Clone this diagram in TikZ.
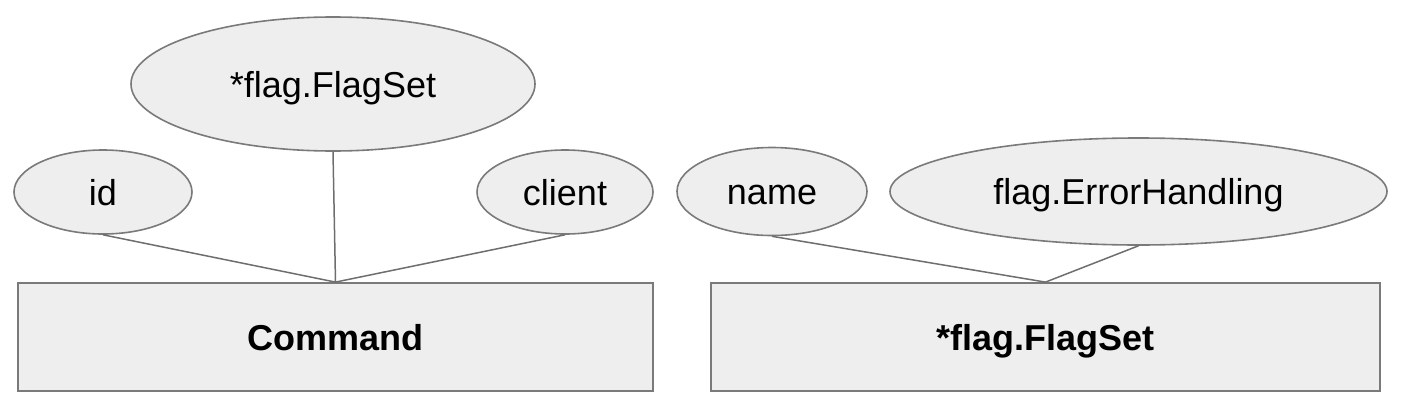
\documentclass[tikz,border=0pt]{standalone}
\usepackage{fontspec}
\setmainfont{Liberation Sans}
\usetikzlibrary{shapes.geometric}
\definecolor{boxfill}{HTML}{EEEEEE}
\definecolor{boxline}{HTML}{7A7A7A}
\definecolor{linkline}{HTML}{6E6E6E}
\tikzset{
  attr/.style={ellipse, draw=boxline, fill=boxfill, line width=1.6pt, inner sep=0pt,
    text height=26pt, text depth=0pt,
    font=\fontsize{36}{40}\selectfont, text=black},
  entity/.style={rectangle, draw=boxline, fill=boxfill, line width=1.8pt, inner sep=0pt,
    text height=26pt, text depth=0pt,
    minimum height=108pt, font=\fontsize{36}{40}\selectfont\bfseries, text=black},
  link/.style={draw=linkline, line width=1.5pt}
}
\begin{document}
\begin{tikzpicture}[x=1pt,y=-1pt]
\useasboundingbox (0,0) rectangle (1406,410);
% entities
\node[entity, minimum width=635pt] (cmd) at (335.5,337) {Command};
\node[entity, minimum width=669pt] (fs) at (1045.5,337) {*flag.FlagSet};
% attributes of Command
\node[attr, minimum width=404pt, minimum height=134pt] (flagset) at (333,84) {*flag.FlagSet};
\node[attr, minimum width=178pt, minimum height=84pt] (id) at (103,192) {id};
\node[attr, minimum width=176pt, minimum height=84pt] (client) at (565,192) {client};
% attributes of *flag.FlagSet
\node[attr, minimum width=190pt, minimum height=88pt] (name) at (772,191.5) {name};
\node[attr, minimum width=497pt, minimum height=107pt] (err) at (1138.5,191.5) {flag.ErrorHandling};
% connectors
\draw[link] (id.south) -- (cmd.north);
\draw[link] (flagset.south) -- (cmd.north);
\draw[link] (client.south) -- (cmd.north);
\draw[link] (name.south) -- (fs.north);
\draw[link] (err.south) -- (fs.north);
\end{tikzpicture}
\end{document}
